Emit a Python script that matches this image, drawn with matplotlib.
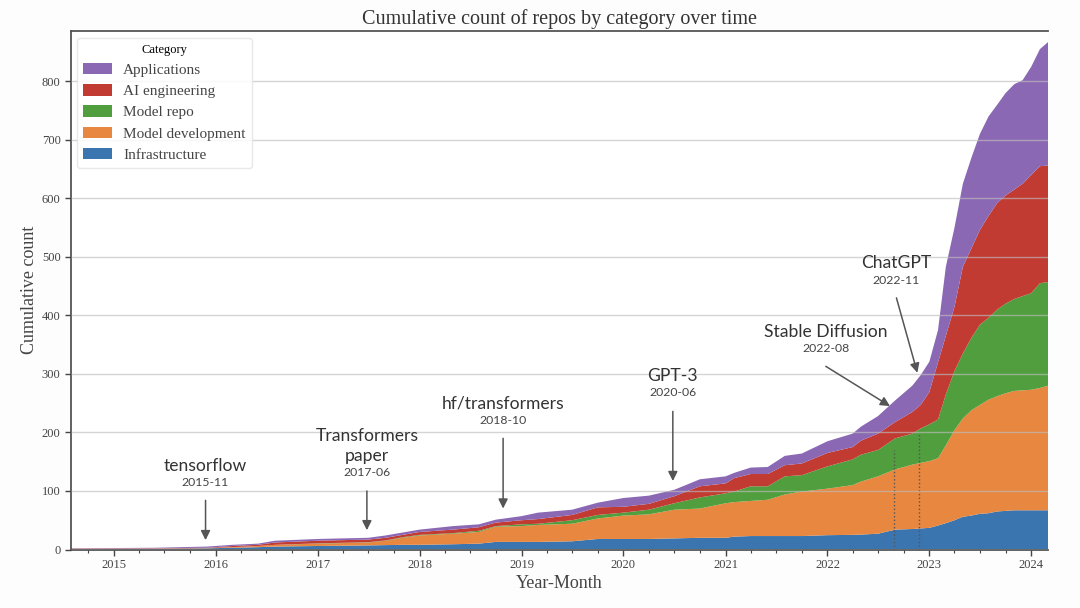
import numpy as np
import pandas as pd
import matplotlib
matplotlib.use('Agg')
import matplotlib.pyplot as plt
import matplotlib.dates as mdates
from matplotlib.patches import Patch

# stack tops, one list per category boundary
months = ['2014-08', '2015-06', '2015-12', '2016-03', '2016-06', '2016-08', '2017-01', '2017-07',
          '2017-09', '2017-11', '2018-01', '2018-05', '2018-08', '2018-10', '2019-01', '2019-03',
          '2019-07', '2019-10', '2020-01', '2020-04', '2020-07', '2020-10', '2021-01', '2021-02',
          '2021-04', '2021-06', '2021-08', '2021-10', '2022-01', '2022-04', '2022-05', '2022-07',
          '2022-09', '2022-11', '2022-12', '2023-01', '2023-02', '2023-03', '2023-04', '2023-05',
          '2023-06', '2023-07', '2023-08', '2023-09', '2023-10', '2023-11', '2023-12', '2024-01',
          '2024-02', '2024-03']
infra = [0.5, 1, 2, 3, 4, 5, 6, 7, 7.5, 8, 8, 9, 10, 13, 13, 13, 14, 18, 18, 18, 19, 20, 20, 22,
         23, 23, 23, 23, 24.5, 25, 25.5, 27, 34, 35, 36, 37, 41, 45, 50, 56, 58, 61, 62, 65, 66,
         67, 67, 67, 67, 67]
dev = [1, 1.5, 2.5, 4, 6, 8, 10, 12, 15, 20, 24, 27, 30, 39, 40, 42, 44, 53, 58, 60, 68, 70, 79, 81,
       83, 85, 94, 99, 104, 110, 116, 125, 137, 145, 148, 151, 156, 178, 204, 224, 238, 247, 256, 262,
       267, 271, 272, 273, 276, 280]
repo = [1, 1.5, 2.5, 4, 6, 8, 10.5, 12.5, 15.5, 21, 25, 28, 32, 40, 43, 44, 50, 59, 63, 68, 79, 89, 96, 99,
        108, 108, 125, 127, 142, 154, 162, 170, 190, 198, 207, 214, 222, 265, 305, 335, 362, 384, 396, 410,
        420, 428, 433, 438, 455, 457]
eng = [1.5, 2, 3, 6, 8, 12, 15, 17, 20, 25, 30, 34, 38, 46, 50, 52, 59, 72, 73, 78, 91, 108, 113, 122,
       129, 129, 144, 147, 165, 175, 186, 198, 218, 235, 247, 269, 320, 365, 415, 483, 515, 546, 570, 592,
       605, 615, 625, 640, 655, 656]
apps = [2, 3, 5, 8, 10, 15, 18, 20, 24, 29, 34, 40, 43, 51, 57, 63, 68, 80, 88, 92, 102, 120, 125, 131,
        140, 141, 160, 164, 185, 198, 210, 228, 255, 280, 298, 321, 375, 483, 550, 625, 670, 710, 740, 760,
        780, 795, 802, 825, 855, 867]

categories = ['Infrastructure', 'Model development', 'Model repo', 'AI engineering', 'Applications']
colors = ['#3a75af', '#e8873f', '#519e3e', '#c23b32', '#8a68b4']

# name, month, label value, date value, arrow start value, arrow tip value
events = [('tensorflow', '2015-11', 143, 115, 84, 16),
          ('Transformers\npaper', '2017-06', 177, 131, 100, 33),
          ('hf/transformers', '2018-10', 249, 220, 190, 70),
          ('GPT-3', '2020-06', 297, 268, 236, 117),
          ('Stable Diffusion', '2022-08', 372, 343, 313, 245),
          ('ChatGPT', '2022-11', 490, 459, 430, 302)]

x = pd.to_datetime(months)
tops = np.array([infra, dev, repo, eng, apps], dtype=float)
bands = np.vstack([tops[0], np.diff(tops, axis=0)])

plt.rcParams['font.family'] = ['Liberation Serif', 'DejaVu Serif']
fig = plt.figure(figsize=(10.8, 6.08), dpi=100, facecolor='#fdfdfd')
ax = fig.add_axes([71 / 1080, 58.5 / 608, 977 / 1080, 518.5 / 608])

ax.stackplot(x, bands, colors=colors, linewidth=0)
ax.set_xlim(pd.Timestamp('2014-08-01'), pd.Timestamp('2024-03-01'))
ax.set_ylim(0, 886)
ax.set_yticks(range(0, 900, 100))
ax.yaxis.grid(True, color='#bdbdbd', lw=1, alpha=0.65)
ax.set_axisbelow(False)

ax.xaxis.set_major_locator(mdates.YearLocator())
ax.xaxis.set_major_formatter(mdates.DateFormatter('%Y'))
ax.xaxis.set_minor_locator(mdates.MonthLocator(bymonth=[1, 4, 7, 10]))
ax.tick_params(axis='both', which='major', labelsize=9, colors='#444444', length=4, width=1)
ax.tick_params(axis='x', which='minor', length=2.5, width=0.8, color='#444444')
ax.tick_params(axis='x', which='major', pad=3)

for side in ['left', 'bottom', 'top']:
    ax.spines[side].set_color('#555555')
    ax.spines[side].set_linewidth(1.3)
ax.spines['right'].set_visible(False)

ax.set_title('Cumulative count of repos by category over time', fontsize=14.5, color='#333333', pad=5)
ax.set_xlabel('Year-Month', fontsize=13, color='#444444', labelpad=3)
ax.set_ylabel('Cumulative count', fontsize=13, color='#444444', labelpad=3)

handles = [Patch(facecolor=c, label=n) for c, n in zip(colors[::-1], categories[::-1])]
ax.legend(handles=handles, title='Category', loc='upper left', fontsize=11, title_fontsize=9,
          bbox_to_anchor=(0.0065, 0.9865), borderaxespad=0, labelcolor='#444444',
          handlelength=1.9, handleheight=0.75, handletextpad=0.7, labelspacing=0.47,
          framealpha=0.85, edgecolor='#e4e4e4')

for name, month, label_y, date_y, start_y, tip_y in events:
    when = pd.Timestamp(month) + pd.offsets.MonthEnd(0) - pd.Timedelta(days=4)
    label_x = when
    tip_x = when
    if name == 'Stable Diffusion':
        label_x = when - pd.Timedelta(days=244)
        tip_x = when - pd.Timedelta(days=14)
    elif name == 'ChatGPT':
        label_x = when - pd.Timedelta(days=82)
        tip_x = when - pd.Timedelta(days=7)
    ax.text(label_x, label_y, name, ha='center', va='center', fontsize=12.6, color='#333333',
            family='Lato', linespacing=1.3)
    ax.text(label_x, date_y, month, ha='center', va='center', fontsize=8.8, color='#444444', family='Lato')
    ax.annotate('', xy=(tip_x, tip_y), xytext=(label_x, start_y),
                arrowprops=dict(arrowstyle='-|>', color='#555555', lw=1.1, mutation_scale=14,
                                shrinkA=0, shrinkB=0))
    if name in ('Stable Diffusion', 'ChatGPT'):
        ax.plot([when, when], [0, 200 if name == 'ChatGPT' else 170], color='#555555', ls=':', lw=1)

fig.savefig('out.png', dpi=100, facecolor=fig.get_facecolor())
